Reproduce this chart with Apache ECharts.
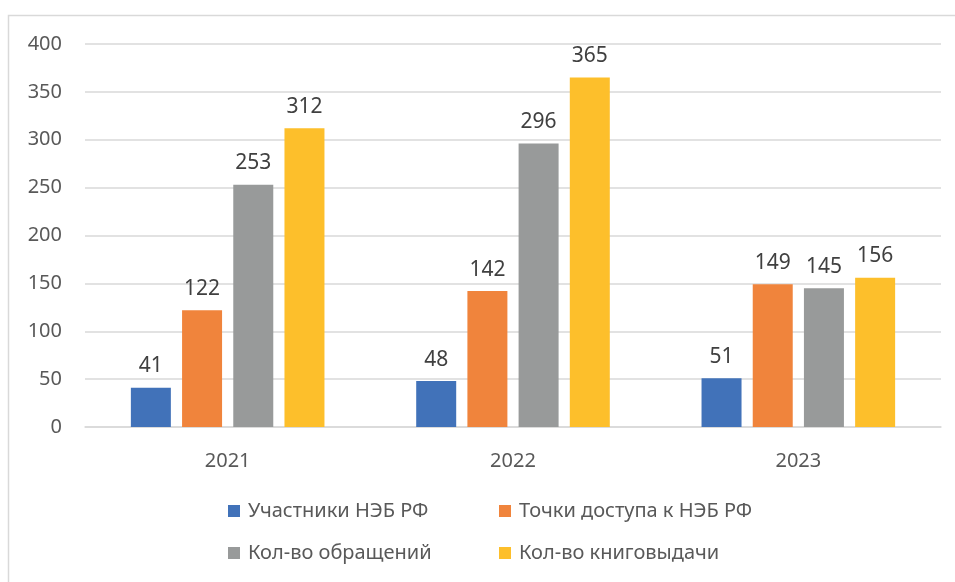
<!DOCTYPE html>
<html><head><meta charset="utf-8">
<script src="https://cdn.jsdelivr.net/npm/echarts@6/dist/echarts.min.js"></script>
<style>html,body{margin:0;padding:0;background:#fff}#c{width:955px;height:582px}</style>
</head><body><div id="c"></div>
<script>
const categories = ['2021', '2022', '2023'];
const seriesNames = ['Участники НЭБ РФ', 'Точки доступа к НЭБ РФ', 'Кол-во обращений', 'Кол-во книговыдачи'];
const participants = [41, 48, 51];
const accessPoints = [122, 142, 149];
const requests = [253, 296, 145];
const loans = [312, 365, 156];
const yTicks = [0, 50, 100, 150, 200, 250, 300, 350, 400];

const colors = ['#4172B9', '#F0843C', '#989A9A', '#FDBF2B'];
const values = [participants, accessPoints, requests, loans];
const FONT = 'Noto Sans';

const chart = echarts.init(document.getElementById('c'));
const legendPos = [
  {left: 228, top: 501}, {left: 499, top: 501},
  {left: 228, top: 543}, {left: 499, top: 543}
];
chart.setOption({
  animation: false,
  textStyle: {fontFamily: FONT},
  graphic: [{type: 'rect', shape: {x: 8.5, y: 15.5, width: 960, height: 600}, style: {fill: 'none', stroke: '#d9d9d9', lineWidth: 1.5}}],
  legend: seriesNames.map((n, i) => ({
    data: [n], left: legendPos[i].left, top: legendPos[i].top, padding: 0,
    icon: 'rect', itemWidth: 12, itemHeight: 12, itemGap: 8,
    textStyle: {fontFamily: FONT, fontSize: 20, color: '#595959', padding: [0, 0, 0, 3]}
  })),
  grid: {left: 85, right: 14, top: 44, bottom: 155, containLabel: false},
  xAxis: {
    type: 'category', data: categories,
    axisLine: {lineStyle: {color: '#d9d9d9', width: 1.5}},
    axisTick: {show: false},
    axisLabel: {fontFamily: FONT, fontSize: 20, color: '#595959', margin: 24}
  },
  yAxis: {
    type: 'value', min: yTicks[0], max: yTicks[yTicks.length - 1], interval: 50,
    axisLine: {show: false}, axisTick: {show: false},
    axisLabel: {fontFamily: FONT, fontSize: 20, color: '#595959', margin: 23},
    splitLine: {lineStyle: {color: '#d9d9d9', width: 1.5}}
  },
  series: seriesNames.map((n, i) => ({
    name: n, type: 'bar', data: values[i], barWidth: 40, barGap: '28%',
    itemStyle: {color: colors[i]},
    label: {show: true, position: 'top', distance: 11, fontFamily: FONT, fontSize: 21, color: '#404040'}
  }))
});
</script></body></html>
